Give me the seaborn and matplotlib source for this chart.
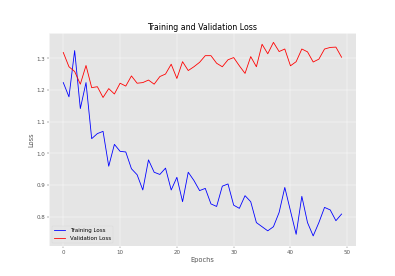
import matplotlib
matplotlib.use("Agg")
import matplotlib.pyplot as plt
import seaborn as sns
import numpy as np

epochs = list(range(50))
train_loss = [1.223, 1.178, 1.324, 1.141, 1.223, 1.046, 1.062, 1.069, 0.959, 1.028,
              1.006, 1.004, 0.951, 0.932, 0.884, 0.979, 0.940, 0.933, 0.953, 0.884,
              0.924, 0.847, 0.940, 0.914, 0.882, 0.889, 0.840, 0.832, 0.896, 0.903,
              0.836, 0.826, 0.866, 0.847, 0.781, 0.768, 0.755, 0.768, 0.813, 0.892,
              0.818, 0.744, 0.864, 0.781, 0.739, 0.781, 0.829, 0.821, 0.787, 0.808]
val_loss = [1.318, 1.273, 1.258, 1.218, 1.277, 1.207, 1.210, 1.176, 1.204, 1.187,
            1.221, 1.212, 1.244, 1.221, 1.223, 1.231, 1.218, 1.242, 1.250, 1.281,
            1.236, 1.289, 1.261, 1.273, 1.287, 1.308, 1.308, 1.284, 1.273, 1.295,
            1.302, 1.276, 1.252, 1.305, 1.273, 1.344, 1.314, 1.350, 1.321, 1.329,
            1.276, 1.289, 1.329, 1.320, 1.288, 1.297, 1.329, 1.334, 1.335, 1.303]

plt.style.use('ggplot')
fig, ax = plt.subplots(figsize=(10, 7), dpi=39.5)
sns.lineplot(x=epochs, y=train_loss, color='blue', label='Training Loss', ax=ax)
sns.lineplot(x=epochs, y=val_loss, color='red', label='Validation Loss', ax=ax)
ax.set_title('Training and Validation Loss')
ax.set_xlabel('Epochs')
ax.set_ylabel('Loss')
ax.legend(loc='lower left')
fig.savefig('out.png', dpi=39.5)
